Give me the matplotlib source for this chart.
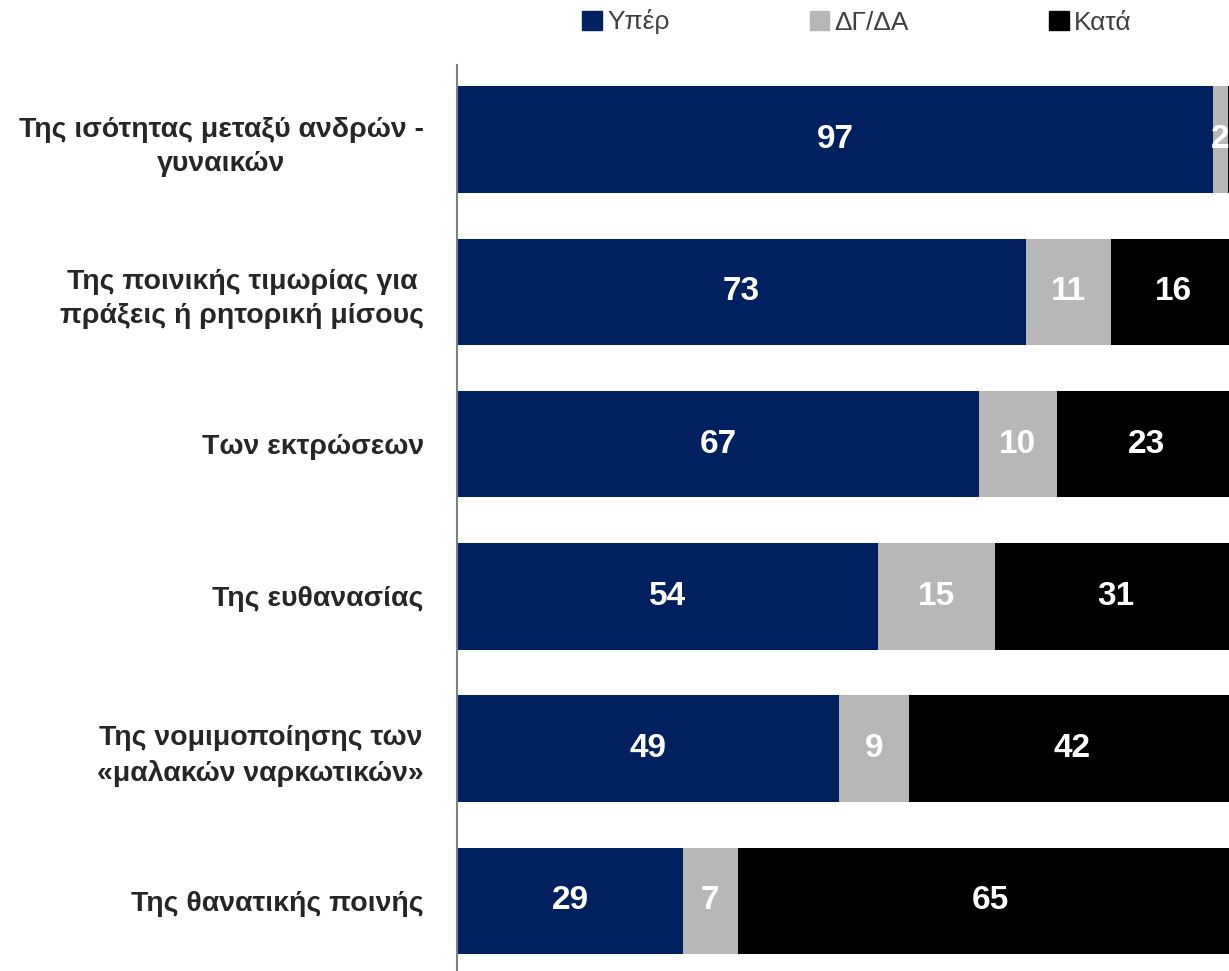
import matplotlib.pyplot as plt
from matplotlib.patches import Patch

plt.rcParams['font.family'] = ['Liberation Sans', 'DejaVu Sans']

categories = [
    'Της ισότητας μεταξύ ανδρών -\nγυναικών',
    'Της ποινικής τιμωρίας για\nπράξεις ή ρητορική μίσους',
    'Των εκτρώσεων',
    'Της ευθανασίας',
    'Της νομιμοποίησης των\n«μαλακών ναρκωτικών»',
    'Της θανατικής ποινής',
]
yper = [97, 73, 67, 54, 49, 29]
dgda = [2, 11, 10, 15, 9, 7]
kata = [1, 16, 23, 31, 42, 65]

series_names = ['Υπέρ', 'ΔΓ/ΔΑ', 'Κατά']
colors = ['#002060', '#B7B7B7', '#000000']

fig = plt.figure(figsize=(12.29, 9.71), dpi=100)
ax = fig.add_axes([0.372, 0.0, 1.0057 - 0.372, 1 - 65 / 971])

y = list(range(len(categories)))
left = [0] * len(categories)
for vals, col in zip([yper, dgda, kata], colors):
    ax.barh(y, vals, left=left, height=0.70, color=col)
    for i, v in enumerate(vals):
        # the 1% "Κατά" of the first bar falls outside the visible area
        if v >= 2:
            ax.text(left[i] + v / 2, i, str(v), ha='center', va='center',
                    color='white', fontsize=24, fontweight='bold')
    left = [l + v for l, v in zip(left, vals)]

ax.set_xlim(0, 100)
ax.set_ylim(5.46, -0.49)
ax.set_xticks([])
ax.set_yticks(y)
ax.set_yticklabels(categories, fontsize=20.5, fontweight='bold', color='#262626',
                   linespacing=1.4)
for lab in ax.get_yticklabels():
    lab.set_multialignment('center')
ax.tick_params(axis='y', length=0, pad=24)
for s in ['top', 'right', 'bottom']:
    ax.spines[s].set_visible(False)
ax.spines['left'].set_color('#808080')
ax.spines['left'].set_linewidth(1.5)

handles = [Patch(color=c) for c in colors]
fig.legend(handles, series_names, loc='center', bbox_to_anchor=(857 / 1229, 1 - 22 / 971),
           ncol=3, frameon=False, fontsize=19, handlelength=0.75, handleheight=0.75,
           handletextpad=0.2, columnspacing=5.3, labelcolor='#404040')

fig.savefig('out.png')
